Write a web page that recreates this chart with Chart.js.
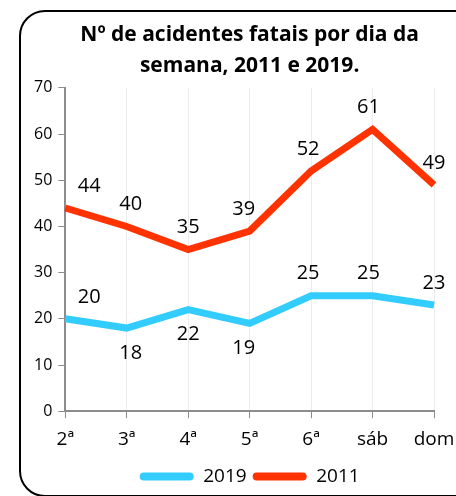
<!DOCTYPE html>
<html>
<head>
<meta charset="utf-8">
<script src="https://cdn.jsdelivr.net/npm/chart.js@4/dist/chart.umd.min.js"></script>
<style>
  html, body { margin: 0; padding: 0; background: #fff; overflow: hidden; }
  #frame {
    position: absolute; left: 19px; top: 10px; width: 470px; height: 487px;
    border: 2px solid #000; border-radius: 26px; box-sizing: border-box;
  }
  #wrap { position: absolute; left: 0; top: 0; width: 512px; height: 496px; }
</style>
</head>
<body>
<div id="frame"></div>
<div id="wrap"><canvas id="linechart"></canvas></div>
<script>
// data
const days = ['2ª', '3ª', '4ª', '5ª', '6ª', 'sáb', 'dom'];
const fatal2019 = [20, 18, 22, 19, 25, 25, 23];
const fatal2011 = [44, 40, 35, 39, 52, 61, 49];
const yTicks = [0, 10, 20, 30, 40, 50, 60, 70];

// where each value label sits (Excel style)
const labelSide2019 = ['above', 'below', 'below', 'below', 'above', 'above', 'above'];
const labelSide2011 = ['above', 'above', 'above', 'above', 'above', 'above', 'above'];
const labelShiftX = [24, 4, 0, -6, -3, -4, 0];

const FONT = 'Open Sans';

const valueLabels = {
    id: 'valueLabels',
    afterDatasetsDraw(chart) {
        const ctx = chart.ctx;
        ctx.save();
        ctx.font = '20px "' + FONT + '"';
        ctx.fillStyle = '#000';
        ctx.textAlign = 'center';
        ctx.textBaseline = 'middle';
        chart.data.datasets.forEach((ds, i) => {
            const meta = chart.getDatasetMeta(i);
            const sides = ds.label === '2019' ? labelSide2019 : labelSide2011;
            meta.data.forEach((pt, j) => {
                const dy = sides[j] === 'above' ? -22 : 25;
                ctx.fillText(String(ds.data[j]), pt.x + labelShiftX[j], pt.y + dy);
            });
        });
        ctx.restore();
    }
};

var ctx = document.getElementById('linechart');
const linechart = new Chart(ctx, {
    type: 'line',
    data: {
        labels: days,
        datasets: [{
            label: '2019',
            data: fatal2019,
            borderColor: '#33CCFF',
            backgroundColor: '#33CCFF',
            borderWidth: 7,
            pointRadius: 0,
            tension: 0
        }, {
            label: '2011',
            data: fatal2011,
            borderColor: '#FF3300',
            backgroundColor: '#FF3300',
            borderWidth: 7,
            pointRadius: 0,
            tension: 0
        }]
    },
    options: {
        responsive: true,
        maintainAspectRatio: false,
        animation: false,
        layout: { padding: { left: 28, right: 78, top: 20, bottom: 0 } },
        plugins: {
            title: {
                display: true,
                fullSize: false,
                text: ['Nº de acidentes fatais por dia da', 'semana, 2011 e 2019.'],
                color: '#000',
                font: { family: FONT, size: 21, weight: 'bold', lineHeight: 1.45 },
                padding: { top: 0, bottom: 7 }
            },
            legend: {
                position: 'bottom',
                fullSize: false,
                labels: {
                    color: '#000',
                    font: { family: FONT, size: 19 },
                    boxWidth: 54,
                    boxHeight: 8,
                    useBorderRadius: true,
                    borderRadius: 4,
                    padding: 6,
                    generateLabels(chart) {
                        return Chart.defaults.plugins.legend.labels.generateLabels(chart).map(l => {
                            l.lineWidth = 0;
                            return l;
                        });
                    }
                }
            },
            tooltip: { enabled: false }
        },
        scales: {
            x: {
                offset: false,
                border: { color: '#8c8c8c', width: 2 },
                grid: { color: '#ececec', tickColor: '#8c8c8c', tickLength: 7 },
                ticks: { color: '#000', font: { family: FONT, size: 19 }, padding: 10, maxRotation: 0 }
            },
            y: {
                min: 0,
                max: 70,
                afterBuildTicks(scale) { scale.ticks = yTicks.map(v => ({ value: v })); },
                border: { color: '#8c8c8c', width: 2 },
                grid: { drawOnChartArea: false, tickColor: '#8c8c8c', tickLength: 7 },
                ticks: { color: '#000', font: { family: FONT, size: 16 }, padding: 6 }
            }
        }
    },
    plugins: [valueLabels]
});
</script>
</body>
</html>
